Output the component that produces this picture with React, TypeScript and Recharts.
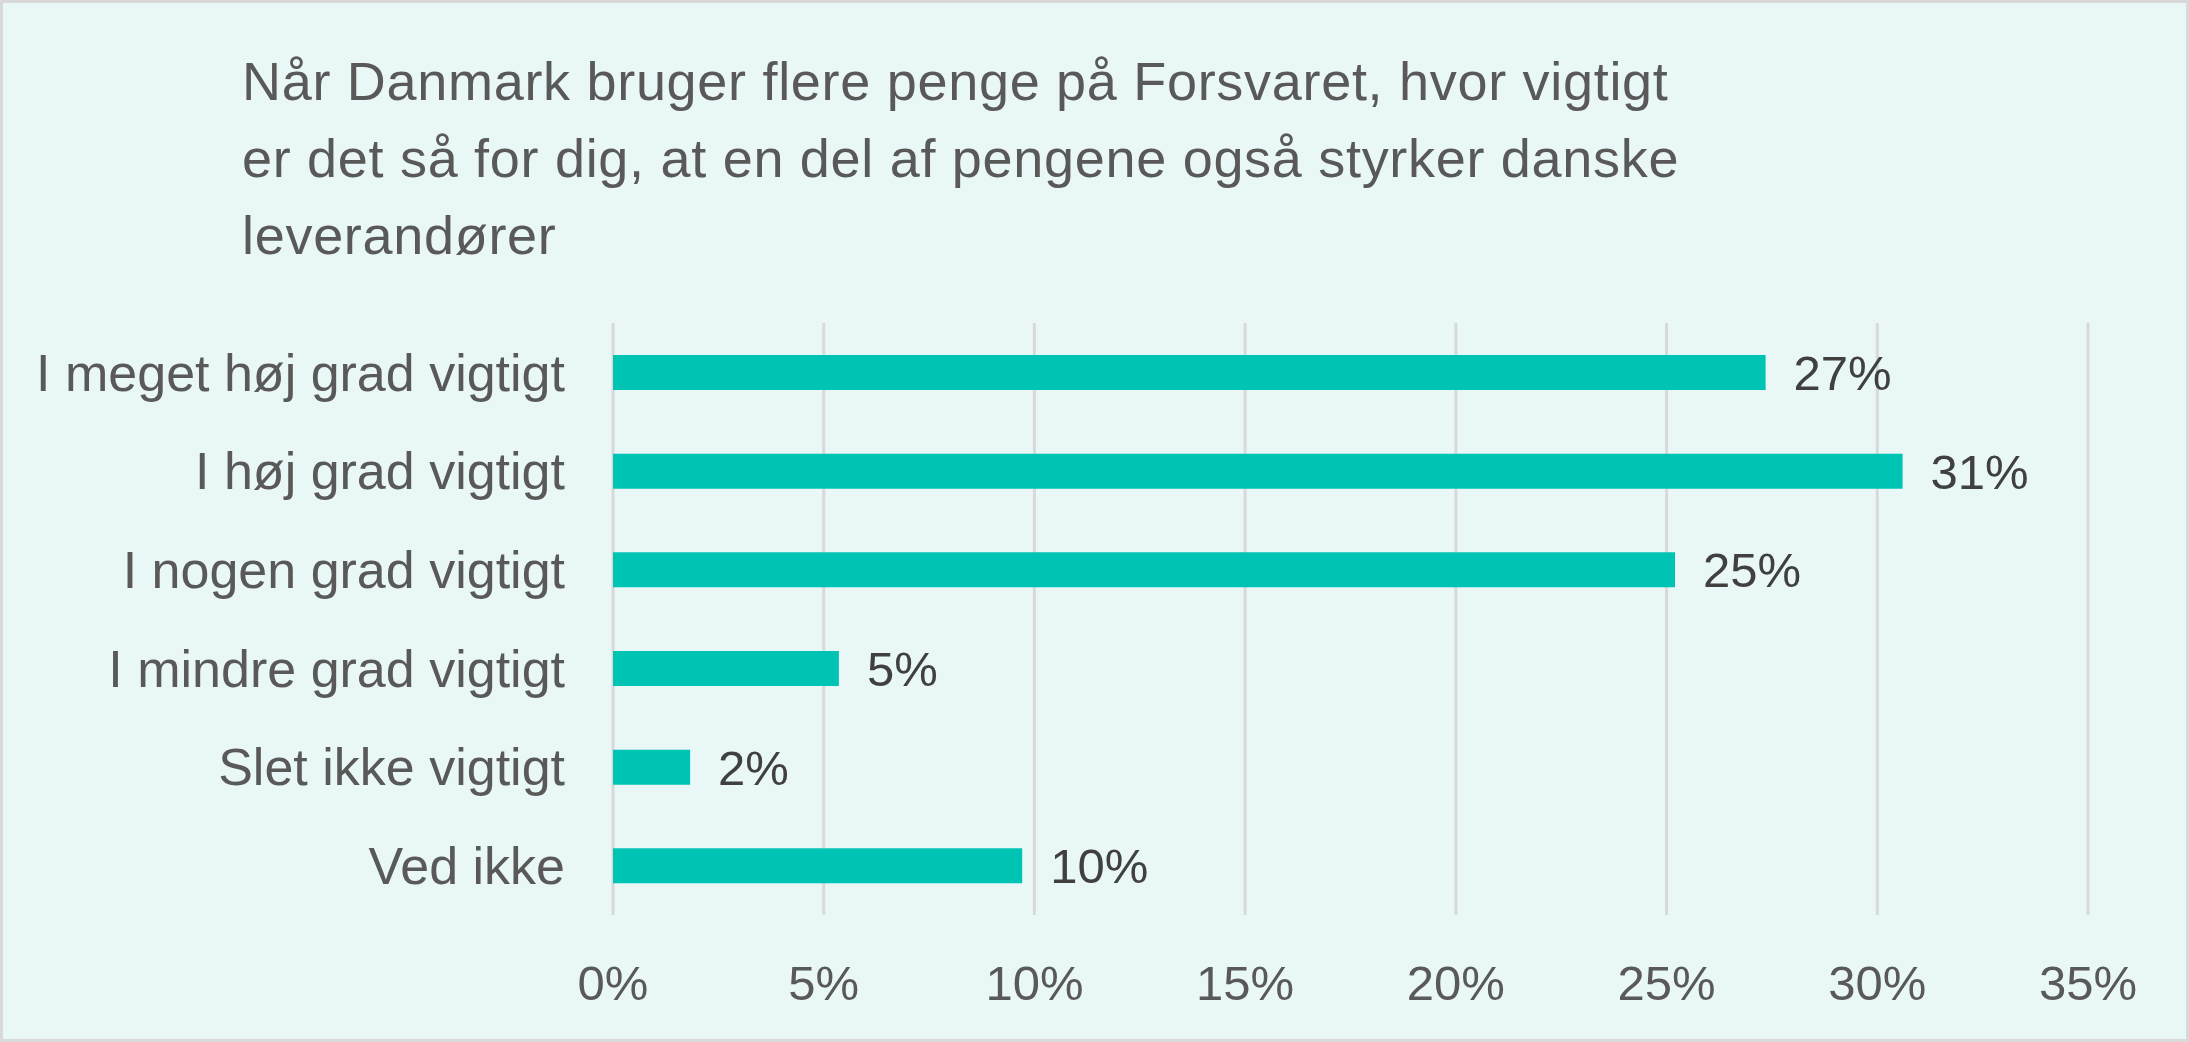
import { BarChart, Bar, XAxis, YAxis, CartesianGrid, LabelList } from 'recharts'

const categories = [
  'I meget høj grad vigtigt',
  'I høj grad vigtigt',
  'I nogen grad vigtigt',
  'I mindre grad vigtigt',
  'Slet ikke vigtigt',
  'Ved ikke',
]
const shares = [0.2735, 0.306, 0.252, 0.0536, 0.0183, 0.0971]
const xTicks = [0, 0.05, 0.1, 0.15, 0.2, 0.25, 0.3, 0.35]
const titleLines = [
  'Når Danmark bruger flere penge på Forsvaret, hvor vigtigt',
  'er det så for dig, at en del af pengene også styrker danske',
  'leverandører',
]

const data = categories.map((name, i) => ({ name, value: shares[i] }))

const FONT = '"Liberation Sans", Arial, sans-serif'
const pct = (v: number) => `${Math.round(v * 100)}%`

export default function App() {
  return (
    <div
      style={{
        position: 'relative',
        width: 2189,
        height: 1042,
        boxSizing: 'border-box',
        border: '3px solid #d9d9d9',
        background: '#e9f7f6',
        fontFamily: FONT,
        overflow: 'hidden',
      }}
    >
      <style>{'body{margin:0}'}</style>
      <div
        style={{
          position: 'absolute',
          left: 239,
          top: 40,
          fontSize: 54,
          letterSpacing: 0.7,
          lineHeight: '77px',
          color: '#595959',
          whiteSpace: 'nowrap',
        }}
      >
        {titleLines.map((t) => (
          <div key={t}>{t}</div>
        ))}
      </div>
      <div style={{ position: 'absolute', left: -3, top: -3 }}>
        <BarChart
          width={2189}
          height={1042}
          data={data}
          layout="vertical"
          margin={{ top: 323, right: 101, bottom: 0, left: 0 }}
          barCategoryGap={0}
        >
          <CartesianGrid horizontal={false} stroke="#d9d9d9" strokeWidth={3} />
          <XAxis
            type="number"
            domain={[0, 0.35]}
            ticks={xTicks}
            tickFormatter={pct}
            axisLine={false}
            tickLine={false}
            tickSize={6}
            tickMargin={44}
            height={127}
            interval={0}
            tick={{ fill: '#595959', fontSize: 49, fontFamily: FONT }}
          />
          <YAxis
            type="category"
            dataKey="name"
            width={613}
            axisLine={false}
            tickLine={false}
            tickSize={6}
            tickMargin={42}
            interval={0}
            tick={{ fill: '#595959', fontSize: 52, fontFamily: FONT }}
          />
          <Bar dataKey="value" fill="#00c4b3" barSize={35} isAnimationActive={false}>
            <LabelList
              dataKey="value"
              position="right"
              offset={28}
              formatter={(v: number) => pct(v)}
              style={{ fill: '#404040', fontSize: 49, fontFamily: FONT }}
            />
          </Bar>
        </BarChart>
      </div>
    </div>
  )
}
